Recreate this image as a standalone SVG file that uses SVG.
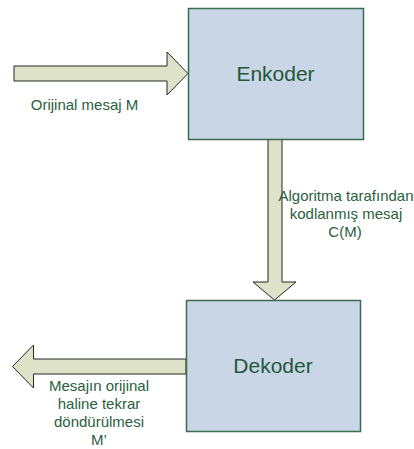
<svg xmlns="http://www.w3.org/2000/svg" width="414" height="449" viewBox="0 0 414 449">
  <style>
    .box { fill: #c9d6e6; stroke: #3a6b50; stroke-width: 1.5; }
    .arrow { fill: #dde2c9; stroke: #1f2a20; stroke-width: 1; stroke-linejoin: miter; }
    .title { font-family: "Liberation Sans", Arial, sans-serif; font-size: 21px; fill: #24573a; text-anchor: middle; }
    .label { font-family: "Liberation Sans", Arial, sans-serif; font-size: 15px; fill: #2a5e3e; text-anchor: middle; }
  </style>
  <rect width="414" height="449" fill="#ffffff"/>

  <!-- block arrows between the stages -->
  <g id="connectors">
    <path id="input-arrow" class="arrow" d="M14,66 H167 V52 L188,73.5 L167,95 V81 H14 Z"/>
    <path id="code-arrow" class="arrow" d="M268,139 H282 V282 H296 L274.5,300 L253,282 H268 Z"/>
    <path id="output-arrow" class="arrow" d="M186,359 H33.5 V345 L12.5,366.5 L33.5,388 V374 H186 Z"/>
  </g>

  <g id="enkoder">
    <rect class="box" x="188.5" y="8.5" width="175" height="131"/>
    <text class="title" x="275.5" y="80.5">Enkoder</text>
  </g>

  <g id="dekoder">
    <rect class="box" x="186.5" y="300.5" width="174" height="131"/>
    <text class="title" x="273" y="373">Dekoder</text>
  </g>

  <g id="labels">
    <text class="label" x="84.5" y="110">Orijinal mesaj M</text>
    <text class="label" x="346" y="201">Algoritma tarafından</text>
    <text class="label" x="346" y="219">kodlanmış mesaj</text>
    <text class="label" x="345" y="237">C(M)</text>
    <text class="label" x="99" y="391">Mesajın orijinal</text>
    <text class="label" x="99" y="409">haline tekrar</text>
    <text class="label" x="99" y="427">döndürülmesi</text>
    <text class="label" x="99" y="445">M’</text>
  </g>
</svg>
